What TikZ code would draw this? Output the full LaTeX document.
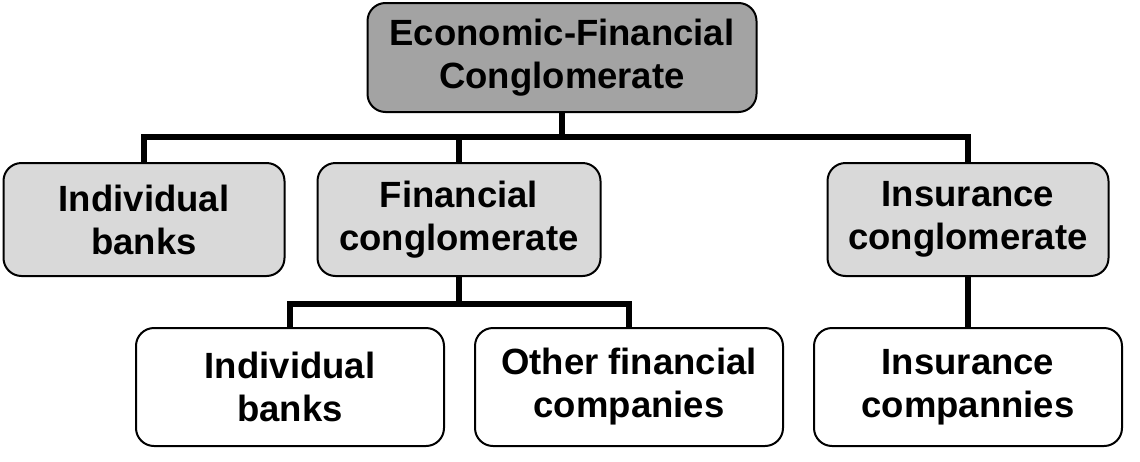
\documentclass[tikz,border=0pt]{standalone}
\usepackage{fontspec}
\setmainfont{Liberation Sans}
\usetikzlibrary{positioning}
\definecolor{headgray}{RGB}{163,163,163}
\definecolor{branchgray}{RGB}{217,217,217}

\begin{document}
\begin{tikzpicture}[
    node distance=29pt,
    unit/.style={draw, rounded corners=18pt, line width=2pt, align=center, inner sep=0pt,
        font=\fontsize{36.5}{43}\selectfont\bfseries},
    head/.style={unit, fill=headgray, minimum width=389pt, minimum height=109pt},
    branch/.style={unit, fill=branchgray, minimum width=281pt, minimum height=113pt},
    leaf/.style={unit, fill=white, minimum width=308pt, minimum height=118pt},
    link/.style={line width=6pt}
]
    \useasboundingbox (0,0) rectangle (1140pt,-461pt);

    \node[head] (ecofin) at (562pt,-57.5pt) {Economic-Financial\\Conglomerate};

    \node[branch] (indbank) at (144pt,-219.5pt) {Individual\\banks};
    \node[branch, right=31pt of indbank, minimum width=283pt] (finconglom) {Financial\\conglomerate};
    \node[branch, right=225pt of finconglom] (insconglom) {Insurance\\conglomerate};

    \node[leaf, below=50pt of insconglom] (inscomp) {Insurance\\compannies};
    \node[leaf, left=of inscomp] (otherfin) {Other financial\\companies};
    \node[leaf, left=of otherfin] (indbanktwo) {Individual\\banks};

    % bus lines
    \coordinate[below=24pt of ecofin.south] (topbus);
    \coordinate[below=27pt of finconglom.south] (finbus);

    \draw[link] (ecofin.south) -- (topbus);
    \draw[link] (topbus) -| (indbank.north);
    \draw[link] (topbus) -| (finconglom.north);
    \draw[link] (topbus) -| (insconglom.north);

    \draw[link] (finconglom.south) -- (finbus);
    \draw[link] (finbus) -| (indbanktwo.north);
    \draw[link] (finbus) -| (otherfin.north);

    \draw[link] (insconglom) -- (inscomp);
\end{tikzpicture}
\end{document}
